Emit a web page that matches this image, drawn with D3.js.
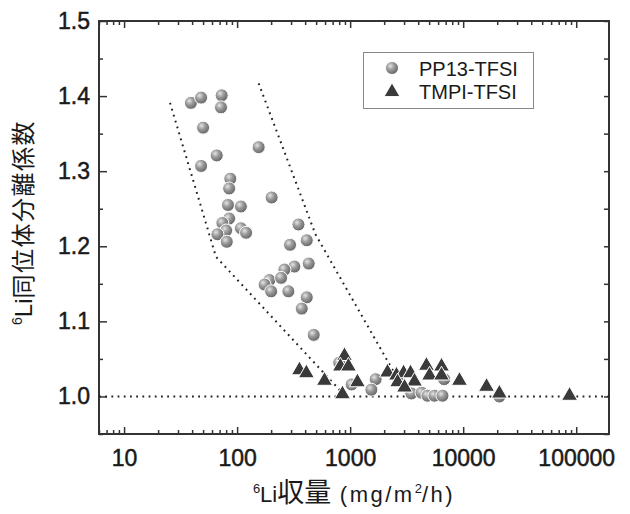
<!DOCTYPE html>
<html>
<head>
<meta charset="utf-8">
<script src="https://cdn.jsdelivr.net/npm/d3@7"></script>
<style>
  body { margin: 0; background: #fff; }
  text { font-family: 'Liberation Sans', Arial, 'Noto Sans CJK JP', sans-serif; fill: #1a1a1a; }
  .tick line { stroke: #333; stroke-width: 1.5; }
  .tick text { stroke: #1a1a1a; stroke-width: 0.5; }
  .domain { display: none; }
  .cjk { font-family: 'Noto Sans CJK JP', sans-serif; }
</style>
</head>
<body>
<svg width="630" height="514"></svg>
<script>

// PP13-TFSI (circles)
let ppX = [39, 48, 73, 72, 50, 155, 66, 48, 87, 85, 202, 83, 108, 85, 74, 80, 67, 108, 120, 81, 349, 413, 294, 430, 321, 262, 193, 245, 175, 200, 284, 413, 373, 476, 800, 1030, 1680, 1540, 3480, 4280, 4830, 5570, 6560, 6780, 20900]
let ppY = [1.391, 1.398, 1.401, 1.385, 1.358, 1.332, 1.321, 1.307, 1.290, 1.277, 1.265, 1.255, 1.253, 1.237, 1.231, 1.221, 1.216, 1.224, 1.218, 1.206, 1.229, 1.208, 1.202, 1.177, 1.173, 1.169, 1.155, 1.158, 1.149, 1.140, 1.140, 1.132, 1.117, 1.082, 1.045, 1.016, 1.023, 1.009, 1.004, 1.005, 1.001, 1.001, 1.001, 1.023, 1.000]

// TMPI-TFSI (triangles)
let tmX = [356, 410, 593, 891, 820, 966, 1160, 855, 2140, 2570, 2970, 2630, 3420, 3710, 3030, 4730, 6430, 5040, 6430, 9270, 16100, 20900, 87300]
let tmY = [1.035, 1.031, 1.021, 1.054, 1.040, 1.040, 1.019, 1.003, 1.032, 1.028, 1.031, 1.019, 1.031, 1.020, 1.012, 1.041, 1.040, 1.028, 1.028, 1.021, 1.013, 1.004, 1.001]

// dotted guide lines around the PP13 data
let leftBandX = [25.5, 65, 850]
let leftBandY = [1.391, 1.186, 1.005]
let rightBandX = [155, 493, 2600]
let rightBandY = [1.417, 1.216, 1.025]

let xMajor = [10, 100, 1000, 10000, 100000]
let yMajor = [1.0, 1.1, 1.2, 1.3, 1.4, 1.5]
let yMinor = [0.95, 1.05, 1.15, 1.25, 1.35, 1.45]
let legendNames = ['PP13-TFSI', 'TMPI-TFSI']

let svg = d3.select('svg')
let pLeft = 99, pRight = 609, pTop = 21, pBottom = 434

let x = d3.scaleLog().domain([6, 195000]).range([pLeft, pRight])
let y = d3.scaleLinear().domain([0.95, 1.5]).range([pBottom, pTop])

let xMinor = []
for (let e = 0; e <= 5; e++) {
  for (let m = 2; m < 10; m++) {
    let v = m * Math.pow(10, e)
    if (v >= 6 && v <= 195000) xMinor.push(v)
  }
}

// sphere gradient
let defs = svg.append('defs')
let grad = defs.append('radialGradient').attr('id', 'ball')
  .attr('cx', '38%').attr('cy', '35%').attr('r', '65%')
grad.append('stop').attr('offset', '0%').attr('stop-color', '#e4e4e4')
grad.append('stop').attr('offset', '45%').attr('stop-color', '#9a9a9a')
grad.append('stop').attr('offset', '100%').attr('stop-color', '#666')

// axes
svg.append('g').attr('transform', `translate(0,${pBottom})`)
  .call(d3.axisBottom(x).tickValues(xMajor).tickSizeInner(-7).tickSizeOuter(0).tickPadding(16).tickFormat(d3.format('d')))
  .call(g => g.selectAll('text').attr('font-size', 23).attr('font-family', null))
svg.append('g').attr('transform', `translate(0,${pBottom})`)
  .call(d3.axisBottom(x).tickValues(xMinor).tickSizeInner(-4).tickSizeOuter(0).tickFormat(''))
svg.append('g').attr('transform', `translate(0,${pTop})`)
  .call(d3.axisTop(x).tickValues(xMajor).tickSizeInner(-7).tickSizeOuter(0).tickFormat(''))
svg.append('g').attr('transform', `translate(0,${pTop})`)
  .call(d3.axisTop(x).tickValues(xMinor).tickSizeInner(-4).tickSizeOuter(0).tickFormat(''))

svg.append('g').attr('transform', `translate(${pLeft},0)`)
  .call(d3.axisLeft(y).tickValues(yMajor).tickSizeInner(-8).tickSizeOuter(0).tickPadding(9).tickFormat(d3.format('.1f')))
  .call(g => g.selectAll('text').attr('font-size', 23).attr('font-family', null))
svg.append('g').attr('transform', `translate(${pLeft},0)`)
  .call(d3.axisLeft(y).tickValues(yMinor).tickSizeInner(-4).tickSizeOuter(0).tickFormat(''))
svg.append('g').attr('transform', `translate(${pRight},0)`)
  .call(d3.axisRight(y).tickValues(yMajor.concat(yMinor)).tickSizeInner(-5).tickSizeOuter(0).tickFormat(''))

svg.append('rect')
  .attr('x', pLeft).attr('y', pTop)
  .attr('width', pRight - pLeft).attr('height', pBottom - pTop)
  .attr('fill', 'none').attr('stroke', '#333').attr('stroke-width', 2)

// dotted lines
let dotted = g => g.attr('fill', 'none').attr('stroke', '#222')
  .attr('stroke-width', 2).attr('stroke-dasharray', '1.8,4.4')

let line = d3.line().x(d => x(d[0])).y(d => y(d[1]))

svg.append('path').datum(x.domain().map(d => [d, 1.0])).attr('d', line).call(dotted)
svg.append('path').datum(leftBandX.map((d, i) => [d, leftBandY[i]])).attr('d', line).call(dotted)
svg.append('path').datum(rightBandX.map((d, i) => [d, rightBandY[i]])).attr('d', line).call(dotted)

// points
let tri = d3.symbol().type(d3.symbolTriangle).size(110)

svg.append('g').selectAll('circle')
  .data(ppX.map((d, i) => [d, ppY[i]]))
  .enter().append('circle')
  .attr('cx', d => x(d[0]))
  .attr('cy', d => y(d[1]))
  .attr('r', 6.5)
  .attr('fill', 'url(#ball)')
  .attr('stroke', '#fff').attr('stroke-width', 1)

svg.append('g').selectAll('path')
  .data(tmX.map((d, i) => [d, tmY[i]]))
  .enter().append('path')
  .attr('d', tri)
  .attr('transform', d => `translate(${x(d[0])},${y(d[1])})`)
  .attr('fill', '#3a3a3a')
  .attr('stroke', '#fff').attr('stroke-width', 1)

// legend
let legend = svg.append('g')
legend.append('rect')
  .attr('x', 363.5).attr('y', 52.5).attr('width', 170).attr('height', 56)
  .attr('fill', '#fff').attr('stroke', '#888').attr('stroke-width', 1)
legend.append('circle').attr('cx', 392).attr('cy', 68).attr('r', 6.5)
  .attr('fill', 'url(#ball)').attr('stroke', '#fff')
legend.append('path').attr('d', tri).attr('transform', 'translate(392,92)')
  .attr('fill', '#3a3a3a').attr('stroke', '#fff')
legend.selectAll('text.lbl')
  .data(legendNames)
  .enter().append('text')
  .attr('class', 'lbl')
  .attr('x', 419)
  .attr('y', (d, i) => 76 + i * 23)
  .attr('font-size', 20)
  .text(d => d)

// axis titles
let xt = svg.append('text')
  .attr('x', (pLeft + pRight) / 2).attr('y', 502)
  .attr('text-anchor', 'middle').attr('font-size', 22)
xt.append('tspan').attr('font-size', 13).attr('dy', -9).text('6')
xt.append('tspan').attr('dy', 9).text('Li')
xt.append('tspan').attr('class', 'cjk').attr('font-size', 27).text('収量')
xt.append('tspan').attr('letter-spacing', 2.5).text(' (mg/m')
xt.append('tspan').attr('font-size', 13).attr('dy', -9).text('2')
xt.append('tspan').attr('dy', 9).attr('letter-spacing', 2.5).text('/h)')

let yt = svg.append('text')
  .attr('transform', `translate(32,${(pTop + pBottom) / 2 - 5}) rotate(-90)`)
  .attr('text-anchor', 'middle').attr('font-size', 24)
yt.append('tspan').attr('font-size', 14).attr('dy', -10).text('6')
yt.append('tspan').attr('dy', 10).text('Li')
yt.append('tspan').attr('class', 'cjk').attr('letter-spacing', 1.5).text('同位体分離係数')

</script>
</body>
</html>
